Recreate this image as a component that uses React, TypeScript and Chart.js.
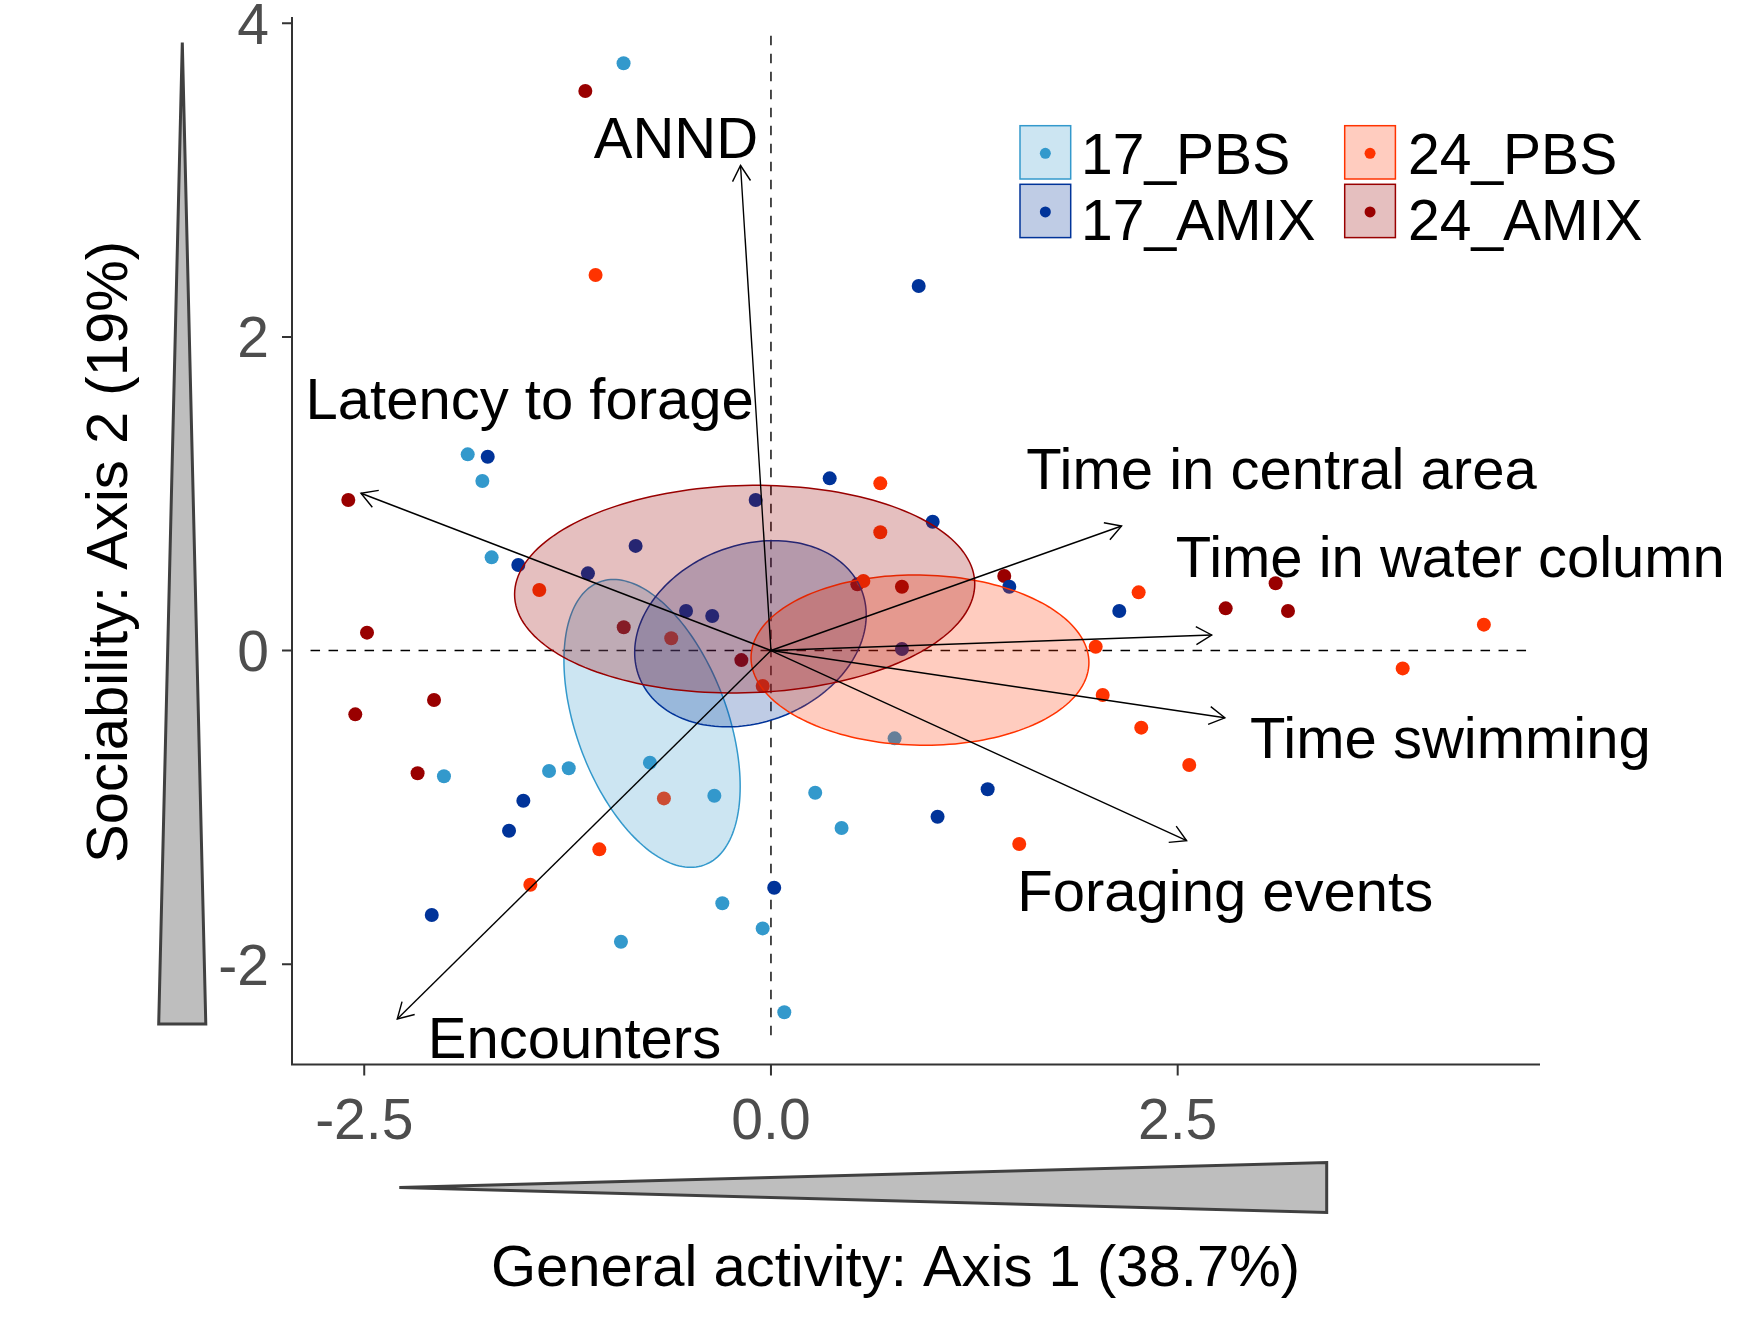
import React, { useEffect, useRef } from "react";
import { Chart, registerables } from "chart.js";

Chart.register(...registerables);

// ---------------- DATA ----------------
const groupNames = ["17_PBS", "17_AMIX", "24_PBS", "24_AMIX"];
const groupColors = ["#3399CC", "#003399", "#FF3300", "#990000"];

const pbs17X = [-0.906, -1.864, -1.774, -1.717, -2.010, -1.364, -1.243, -0.744, -0.348, -0.299, -0.051, -0.922, 0.760, 0.272, 0.434, 0.082];
const pbs17Y = [3.745, 1.251, 1.081, 0.594, -0.802, -0.768, -0.751, -0.715, -0.926, -1.612, -1.772, -1.857, -0.560, -0.907, -1.132, -2.307];

const amix17X = [-1.741, 0.908, -0.094, -0.832, -1.553, -1.125, -0.522, -0.361, -1.522, -1.610, -2.085, 0.020, 1.332, 1.024, 0.361, 0.994, 1.465, 2.141, 0.805];
const amix17Y = [1.236, 2.325, 0.960, 0.667, 0.545, 0.492, 0.252, 0.220, -0.958, -1.149, -1.687, -1.513, -0.885, -1.060, 1.098, 0.821, 0.407, 0.252, 0.010];

const pbs24X = [-1.078, -1.424, -0.613, -0.051, -0.658, -1.055, -1.479, 2.276, 1.526, 0.672, 0.672, 0.568, 2.260, 1.996, 2.039, 2.571, 4.382, 3.883];
const pbs24Y = [2.395, 0.386, 0.078, -0.226, -0.943, -1.268, -1.494, -0.492, -1.234, 1.066, 0.754, 0.443, 0.371, 0.024, -0.284, -0.730, 0.165, -0.114];

const amix24X = [-1.141, -2.598, -2.483, -0.905, -0.182, -2.071, -2.555, -2.172, 0.531, 0.805, 1.434, 2.795, 3.102, 3.178];
const amix24Y = [3.568, 0.960, 0.114, 0.148, -0.061, -0.316, -0.407, -0.783, 0.422, 0.407, 0.475, 0.269, 0.429, 0.252];

// variable loadings (arrow tips) and their label anchors
const loadingNames = ["ANND", "Latency to forage", "Time in central area", "Time in water column", "Time swimming", "Foraging events", "Encounters"];
const loadingX = [-0.187, -2.520, 2.155, 2.709, 2.790, 2.555, -2.297];
const loadingY = [3.093, 1.003, 0.794, 0.099, -0.429, -1.213, -2.350];
const loadingLabelX = [-0.584, -1.483, 3.138, 4.176, 4.176, 2.792, -1.208];
const loadingLabelY = [3.139, 1.474, 1.030, 0.471, -0.684, -1.659, -2.601];

// axes
const xTicks = [-2.5, 0, 2.5];
const xTickLabels = ["-2.5", "0.0", "2.5"];
const yTicks = [-2, 0, 2, 4];
const yTickLabels = ["-2", "0", "2", "4"];
const xRange = [-2.944, 4.727];
const yRange = [-2.640, 4.040];
const hLineRange = [-2.83, 4.66];
const vLineRange = [-2.50, 3.92];
const xTitle = "General activity: Axis 1 (38.7%)";
const yTitle = "Sociability: Axis 2 (19%)";
const chi2Level95 = 5.991; // 95% confidence ellipse of group means (2 df)

// ---------------- LAYOUT / STYLE ----------------
const W = 1754;
const H = 1321;
const FONT = '"Liberation Sans", Arial, Helvetica, sans-serif';
const LAYOUT = {
  padLeft: 292,
  padRight: W - 1540,
  padTop: 17,
  padBottom: H - 1064.5,
  tickLen: 10,
  yTickLabelRight: 269,
  xTickBaseline: 1139,
  tickFont: 57,
  textFont: 58,
  legendFont: 57,
  xTitleX: 895.5,
  xTitleBaseline: 1286,
  yTitleBaselineX: 127,
  yTitleCenterY: 552,
  vWedge: [[182.3, 42.5], [205.8, 1024], [158.7, 1024]],
  hWedge: [[399.3, 1187.5], [1326.7, 1162.5], [1326.7, 1212.5]],
  legendBoxX: [1020, 1344.7],
  legendBoxY: [125.7, 184.3],
  legendBoxW: 50.7,
  legendBoxH: 53.3,
  legendTextX: [1081, 1408],
  legendTextBaseline: [174.3, 240],
  pointRadius: 7,
  legendDotRadius: 5.5,
  arrowHead: 18,
};

const groupX = [pbs17X, amix17X, pbs24X, amix24X];
const groupY = [pbs17Y, amix17Y, pbs24Y, amix24Y];

function hexToRgba(hex: string, a: number) {
  const n = parseInt(hex.slice(1), 16);
  return `rgba(${(n >> 16) & 255},${(n >> 8) & 255},${n & 255},${a})`;
}

function confidenceEllipse(xs: number[], ys: number[], steps = 180) {
  const n = xs.length;
  const mx = xs.reduce((s, v) => s + v, 0) / n;
  const my = ys.reduce((s, v) => s + v, 0) / n;
  let sxx = 0, syy = 0, sxy = 0;
  for (let i = 0; i < n; i++) {
    const dx = xs[i] - mx, dy = ys[i] - my;
    sxx += dx * dx; syy += dy * dy; sxy += dx * dy;
  }
  const d = (n - 1) * n;
  sxx /= d; syy /= d; sxy /= d;
  const k = Math.sqrt(chi2Level95);
  const l11 = Math.sqrt(sxx);
  const l21 = sxy / l11;
  const l22 = Math.sqrt(Math.max(syy - l21 * l21, 0));
  const pts: number[][] = [];
  for (let i = 0; i <= steps; i++) {
    const t = (2 * Math.PI * i) / steps;
    const u = Math.cos(t), v = Math.sin(t);
    pts.push([mx + k * l11 * u, my + k * (l21 * u + l22 * v)]);
  }
  return pts;
}

function drawArrow(ctx: CanvasRenderingContext2D, x0: number, y0: number, x1: number, y1: number, len: number) {
  const a = Math.atan2(y1 - y0, x1 - x0);
  const phi = Math.PI / 6;
  ctx.beginPath();
  ctx.moveTo(x0, y0);
  ctx.lineTo(x1, y1);
  ctx.stroke();
  ctx.beginPath();
  ctx.moveTo(x1 - len * Math.cos(a - phi), y1 - len * Math.sin(a - phi));
  ctx.lineTo(x1, y1);
  ctx.lineTo(x1 - len * Math.cos(a + phi), y1 - len * Math.sin(a + phi));
  ctx.stroke();
}

const biplotPlugin = {
  id: "biplot",
  beforeDraw(chart: any) {
    const ctx = chart.ctx;
    ctx.save();
    ctx.fillStyle = "#FFFFFF";
    ctx.fillRect(0, 0, chart.width, chart.height);
    ctx.restore();
  },
  beforeDatasetsDraw(chart: any) {
    const { ctx, scales } = chart;
    const sx = scales.x, sy = scales.y;
    ctx.save();
    ctx.strokeStyle = "#000000";
    ctx.lineWidth = 1.4;
    ctx.setLineDash([9.5, 8.5]);
    ctx.beginPath();
    ctx.moveTo(sx.getPixelForValue(hLineRange[0]), sy.getPixelForValue(0));
    ctx.lineTo(sx.getPixelForValue(hLineRange[1]), sy.getPixelForValue(0));
    ctx.stroke();
    ctx.beginPath();
    ctx.moveTo(sx.getPixelForValue(0), sy.getPixelForValue(vLineRange[1]));
    ctx.lineTo(sx.getPixelForValue(0), sy.getPixelForValue(vLineRange[0]));
    ctx.stroke();
    ctx.restore();
  },
  afterDatasetsDraw(chart: any) {
    const { ctx, scales } = chart;
    const sx = scales.x, sy = scales.y;
    ctx.save();
    // confidence ellipses
    for (let g = 0; g < groupNames.length; g++) {
      const pts = confidenceEllipse(groupX[g], groupY[g]);
      ctx.beginPath();
      pts.forEach((p, i) => {
        const px = sx.getPixelForValue(p[0]);
        const py = sy.getPixelForValue(p[1]);
        if (i === 0) ctx.moveTo(px, py); else ctx.lineTo(px, py);
      });
      ctx.closePath();
      ctx.fillStyle = hexToRgba(groupColors[g], 0.25);
      ctx.fill();
      ctx.strokeStyle = groupColors[g];
      ctx.lineWidth = 1.5;
      ctx.stroke();
    }
    // loading arrows
    const ox = sx.getPixelForValue(0), oy = sy.getPixelForValue(0);
    ctx.strokeStyle = "#000000";
    ctx.lineWidth = 1.4;
    for (let i = 0; i < loadingNames.length; i++) {
      drawArrow(ctx, ox, oy, sx.getPixelForValue(loadingX[i]), sy.getPixelForValue(loadingY[i]), LAYOUT.arrowHead);
    }
    ctx.fillStyle = "#000000";
    ctx.font = `${LAYOUT.textFont}px ${FONT}`;
    ctx.textAlign = "center";
    ctx.textBaseline = "alphabetic";
    for (let i = 0; i < loadingNames.length; i++) {
      ctx.fillText(loadingNames[i], sx.getPixelForValue(loadingLabelX[i]), sy.getPixelForValue(loadingLabelY[i]));
    }
    ctx.restore();
  },
  afterDraw(chart: any) {
    const { ctx, scales, chartArea } = chart;
    const sx = scales.x, sy = scales.y;
    ctx.save();
    // axis lines
    ctx.strokeStyle = "#333333";
    ctx.lineWidth = 2;
    ctx.beginPath();
    ctx.moveTo(chartArea.left, chartArea.top);
    ctx.lineTo(chartArea.left, chartArea.bottom);
    ctx.lineTo(chartArea.right, chartArea.bottom);
    ctx.stroke();
    // ticks
    ctx.beginPath();
    xTicks.forEach((v) => {
      const px = sx.getPixelForValue(v);
      ctx.moveTo(px, chartArea.bottom);
      ctx.lineTo(px, chartArea.bottom + LAYOUT.tickLen + 1);
    });
    yTicks.forEach((v) => {
      const py = sy.getPixelForValue(v);
      ctx.moveTo(chartArea.left, py);
      ctx.lineTo(chartArea.left - LAYOUT.tickLen, py);
    });
    ctx.stroke();
    // tick labels
    ctx.fillStyle = "#4D4D4D";
    ctx.font = `${LAYOUT.tickFont}px ${FONT}`;
    ctx.textBaseline = "alphabetic";
    ctx.textAlign = "center";
    xTicks.forEach((v, i) => ctx.fillText(xTickLabels[i], sx.getPixelForValue(v), LAYOUT.xTickBaseline));
    ctx.textAlign = "right";
    yTicks.forEach((v, i) => ctx.fillText(yTickLabels[i], LAYOUT.yTickLabelRight, sy.getPixelForValue(v) + LAYOUT.tickFont * 0.358));
    // axis titles
    ctx.fillStyle = "#000000";
    ctx.font = `${LAYOUT.textFont}px ${FONT}`;
    ctx.textAlign = "center";
    ctx.fillText(xTitle, LAYOUT.xTitleX, LAYOUT.xTitleBaseline);
    ctx.save();
    ctx.translate(LAYOUT.yTitleBaselineX, LAYOUT.yTitleCenterY);
    ctx.rotate(-Math.PI / 2);
    ctx.fillText(yTitle, 0, 0);
    ctx.restore();
    // wedges
    ctx.fillStyle = "#BEBEBE";
    ctx.strokeStyle = "#404040";
    ctx.lineWidth = 3;
    ctx.lineJoin = "miter";
    [LAYOUT.vWedge, LAYOUT.hWedge].forEach((w) => {
      ctx.beginPath();
      ctx.moveTo(w[0][0], w[0][1]);
      ctx.lineTo(w[1][0], w[1][1]);
      ctx.lineTo(w[2][0], w[2][1]);
      ctx.closePath();
      ctx.fill();
      ctx.stroke();
    });
    // legend (2 columns)
    ctx.font = `${LAYOUT.legendFont}px ${FONT}`;
    ctx.textAlign = "left";
    ctx.textBaseline = "alphabetic";
    for (let g = 0; g < groupNames.length; g++) {
      const col = Math.floor(g / 2), row = g % 2;
      const bx = LAYOUT.legendBoxX[col], by = LAYOUT.legendBoxY[row];
      ctx.fillStyle = hexToRgba(groupColors[g], 0.25);
      ctx.fillRect(bx, by, LAYOUT.legendBoxW, LAYOUT.legendBoxH);
      ctx.strokeStyle = groupColors[g];
      ctx.lineWidth = 1.5;
      ctx.strokeRect(bx, by, LAYOUT.legendBoxW, LAYOUT.legendBoxH);
      ctx.fillStyle = groupColors[g];
      ctx.beginPath();
      ctx.arc(bx + LAYOUT.legendBoxW / 2, by + LAYOUT.legendBoxH / 2 + 1, LAYOUT.legendDotRadius, 0, Math.PI * 2);
      ctx.fill();
      ctx.fillStyle = "#000000";
      ctx.fillText(groupNames[g], LAYOUT.legendTextX[col], LAYOUT.legendTextBaseline[row]);
    }
    ctx.restore();
  },
};

export default function App() {
  const canvasRef = useRef<HTMLCanvasElement | null>(null);

  useEffect(() => {
    if (!canvasRef.current) return;
    const datasets = groupNames.map((name, g) => ({
      label: name,
      data: groupX[g].map((x, i) => ({ x, y: groupY[g][i] })),
      backgroundColor: groupColors[g],
      borderColor: groupColors[g],
      borderWidth: 0,
      pointRadius: LAYOUT.pointRadius,
      pointHoverRadius: LAYOUT.pointRadius,
      showLine: false,
    }));
    const chart = new Chart(canvasRef.current, {
      type: "scatter",
      data: { datasets },
      options: {
        responsive: false,
        animation: false,
        devicePixelRatio: 1,
        events: [],
        layout: {
          padding: { left: LAYOUT.padLeft, right: LAYOUT.padRight, top: LAYOUT.padTop, bottom: LAYOUT.padBottom },
        },
        scales: {
          x: { type: "linear", min: xRange[0], max: xRange[1], display: false },
          y: { type: "linear", min: yRange[0], max: yRange[1], display: false },
        },
        plugins: { legend: { display: false }, tooltip: { enabled: false } },
      },
      plugins: [biplotPlugin],
    } as any);
    return () => chart.destroy();
  }, []);

  return (
    <div style={{ position: "absolute", left: 0, top: 0, width: W, height: H, background: "#FFFFFF" }}>
      <canvas ref={canvasRef} width={W} height={H} style={{ display: "block", width: W, height: H }} />
    </div>
  );
}
